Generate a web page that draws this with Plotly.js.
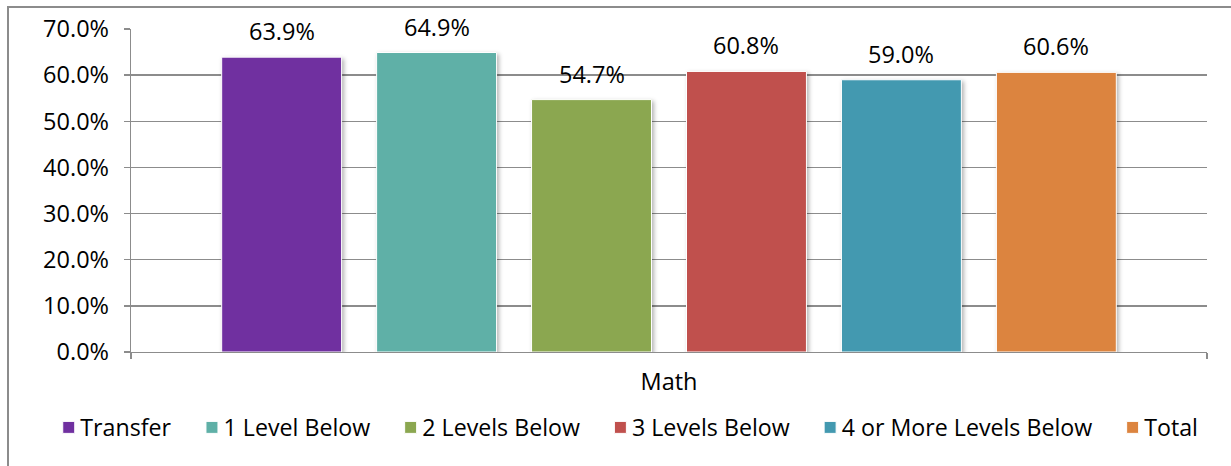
<!DOCTYPE html>
<html>
<head>
<meta charset="utf-8">
<script src="https://cdn.plot.ly/plotly-3.0.1.min.js"></script>
<style>
  html, body { margin: 0; padding: 0; background: #fff; }
  #wrap { position: relative; width: 1231px; height: 466px; overflow: hidden; }
  #chart { position: absolute; left: 0; top: 0; width: 1231px; height: 466px; }
  #frame { position: absolute; left: 7px; top: 6px; width: 1300px; height: 600px;
           border-top: 2px solid #8c8c8c; border-left: 2px solid #8c8c8c; pointer-events: none; }
  .js-plotly-plot .plotly .bars .point path { filter: drop-shadow(2px 2px 2px rgba(0,0,0,0.3)); }
  /* pull legend labels closer to their swatches */
  .js-plotly-plot .plotly .legend .legendtext { transform: translateX(-11.9px); }
</style>
</head>
<body>
<div id="wrap">
  <div id="chart"></div>
  <div id="frame"></div>
</div>
<script>
// Success rate by placement level, math
const categories = ['Math'];
const seriesNames = ['Transfer', '1 Level Below', '2 Levels Below', '3 Levels Below', '4 or More Levels Below', 'Total'];
const seriesValues = [63.9, 64.9, 54.7, 60.8, 59.0, 60.6];
const seriesColors = ['#7030a0', '#5fb0a7', '#8ba750', '#c0504d', '#4399b0', '#dc843f'];

const FONT = 'Open Sans, DejaVu Sans, sans-serif';
const BARGAP = 0.136;
const BARGROUPGAP = 0.226;

const traces = seriesNames.map((name, i) => ({
  type: 'bar',
  name: name,
  x: categories,
  y: [seriesValues[i]],
  marker: { color: seriesColors[i], line: { color: '#ffffff', width: 1 } },
  hoverinfo: 'name+y'
}));

// value labels sit above each bar of the group
const n = seriesNames.length;
const slot = (1 - BARGAP) / n;
const annotations = seriesValues.map((v, i) => ({
  xref: 'x', yref: 'y',
  x: (i - (n - 1) / 2) * slot,
  y: v,
  text: v.toFixed(1) + '%',
  showarrow: false,
  xanchor: 'center', yanchor: 'bottom',
  yshift: 8,
  font: { family: FONT, size: 23.5, color: '#000' }
}));

const layout = {
  width: 1231, height: 466,
  margin: { l: 131, r: 24, t: 29, b: 114 },
  paper_bgcolor: 'rgba(0,0,0,0)',
  plot_bgcolor: '#ffffff',
  font: { family: FONT, size: 23.5, color: '#000' },
  barmode: 'group',
  bargap: BARGAP,
  bargroupgap: BARGROUPGAP,
  showlegend: true,
  legend: {
    orientation: 'h',
    x: -0.0797, xanchor: 'left',
    y: -0.2347, yanchor: 'middle',
    font: { family: FONT, size: 23.2, color: '#000' },
    itemwidth: 37,
    traceorder: 'normal'
  },
  xaxis: {
    type: 'category',
    range: [-0.5, 0.5],
    showgrid: false,
    showline: true, linecolor: '#8c8c8c', linewidth: 1.3,
    ticks: 'outside', tickson: 'boundaries', ticklen: 6, tickcolor: '#8c8c8c', tickwidth: 1.3,
    ticklabelstandoff: 8,
    tickfont: { family: FONT, size: 23.5, color: '#000' },
    fixedrange: true
  },
  yaxis: {
    range: [0, 70],
    dtick: 10,
    tickformat: '.1f', ticksuffix: '%',
    showgrid: true, gridcolor: '#8c8c8c', gridwidth: 1.3,
    showline: true, linecolor: '#8c8c8c', linewidth: 1.3,
    zeroline: false,
    ticks: 'outside', ticklen: 6, tickcolor: '#8c8c8c', tickwidth: 1.3,
    ticklabelstandoff: 10,
    tickfont: { family: FONT, size: 23.5, color: '#000' },
    fixedrange: true
  },
  annotations: annotations
};

Plotly.newPlot('chart', traces, layout, { displayModeBar: false, staticPlot: true });
</script>
</body>
</html>
